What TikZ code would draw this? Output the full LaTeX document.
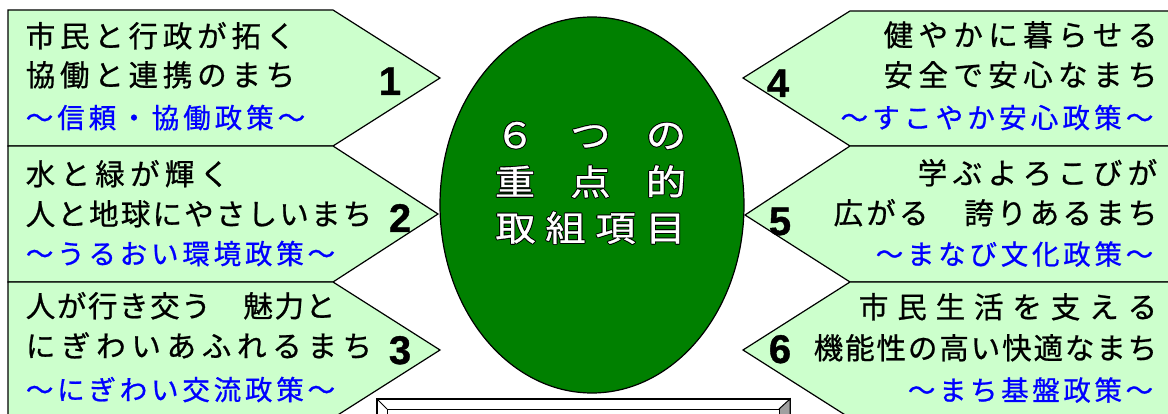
\documentclass[tikz,border=0pt]{standalone}
\usepackage{fontspec}
\usepackage{graphicx}
\newfontfamily\jp{Noto Sans CJK JP}[FakeBold=0.8]
\newfontfamily\dg{Liberation Sans}[FakeBold=1]
\definecolor{lgreen}{HTML}{CCFFCC}
\definecolor{dgreen}{HTML}{008000}
\definecolor{tblue}{HTML}{0000FF}
\definecolor{bevel}{HTML}{A0A0A0}
% characters set on a fixed pitch
\def\jline#1#2{\def\jlw{#1}\jlx#2\jlend}
\let\jlend\relax
\def\jlx#1{\ifx#1\jlend\else\makebox[\jlw pt][c]{#1}\expandafter\jlx\fi}
% characters on a fixed pitch, stretched sideways
\def\cline#1#2{\def\jlw{#1}\clx#2\jlend}
\def\clx#1{\ifx#1\jlend\else\makebox[\jlw pt][c]{\scalebox{1.15}[1]{#1}}\expandafter\clx\fi}
% white text with a thin black outline
\newsavebox\olbox
\newcommand\olt[1]{%
  \sbox\olbox{\color{black}#1}%
  \rlap{\hspace{0.9pt}\usebox\olbox}\rlap{\hspace{-0.9pt}\usebox\olbox}%
  \rlap{\raisebox{0.9pt}{\usebox\olbox}}\rlap{\raisebox{-0.9pt}{\usebox\olbox}}%
  \rlap{\hspace{0.65pt}\raisebox{0.65pt}{\usebox\olbox}}\rlap{\hspace{-0.65pt}\raisebox{0.65pt}{\usebox\olbox}}%
  \rlap{\hspace{0.65pt}\raisebox{-0.65pt}{\usebox\olbox}}\rlap{\hspace{-0.65pt}\raisebox{-0.65pt}{\usebox\olbox}}%
  {\color{white}#1}}
\tikzset{
  pent/.style={fill=lgreen, draw=black, line width=1.2pt, line join=miter},
  blk/.style={anchor=base, inner sep=0pt, font=\jp\fontsize{29.5}{32}\selectfont, text=black},
  blu/.style={anchor=base, inner sep=0pt, font=\jp\fontsize{27.5}{30}\selectfont, text=tblue},
  num/.style={anchor=base, inner sep=0pt, font=\dg\bfseries\fontsize{40}{44}\selectfont, text=black},
  ctr/.style={anchor=base, inner sep=0pt, font=\jp\fontsize{35}{38}\selectfont},
}
\begin{document}
\begin{tikzpicture}[x=1pt,y=-1pt]
\useasboundingbox (0,0) rectangle (1168,414);
% left arrows
\draw[pent] (8,10) -- (333,10) -- (440,78) -- (333,146) -- (8,146) -- cycle;
\draw[pent] (8,146) -- (333,146) -- (438,214) -- (333,282) -- (8,282) -- cycle;
\draw[pent] (8,282) -- (333,282) -- (440,350) -- (333,418) -- (8,418) -- cycle;
% right arrows
\draw[pent] (1180,11) -- (850,11) -- (743,78) -- (850,146) -- (1180,146) -- cycle;
\draw[pent] (1180,146) -- (850,146) -- (745,215) -- (850,282) -- (1180,282) -- cycle;
\draw[pent] (1180,282) -- (850,282) -- (743,350) -- (850,418) -- (1180,418) -- cycle;
% centre ellipse
\draw[fill=dgreen, draw=black, line width=1.2pt] (592,205) ellipse [x radius=152, y radius=188];
\node[ctr] (c1) at (590.5,148) {\olt{\cline{75.5}{６つの}}};
\node[ctr] (c2) at (590.5,195) {\olt{\cline{75.5}{重点的}}};
\node[ctr] (c3) at (590.5,241) {\olt{\cline{50}{取組項目}}};
% left texts
\node[blk] (l1a) at (160.5,47) {\jline{34.3}{市民と行政が拓く}};
\node[blk] (l1b) at (160.5,86) {\jline{34.3}{協働と連携のまち}};
\node[blu] (l1c) at (165.5,128) {\jline{31.5}{～信頼・協働政策～}};
\node[blk] (l2a) at (127.5,185) {\jline{34.8}{水と緑が輝く}};
\node[blk] (l2b) at (199,225) {\jline{31.7}{人と地球にやさしいまち}};
\node[blu] (l2c) at (180.5,264) {\jline{31.3}{～うるおい環境政策～}};
\node[blk] (l3a) at (180.5,317) {\jline{31.1}{人が行き交う　魅力と}};
\node[blk] (l3b) at (199,357) {\jline{35.2}{にぎわいあふれるまち}};
\node[blu] (l3c) at (180.5,400) {\jline{31.3}{～にぎわい交流政策～}};
% right texts
\node[blk] (r4a) at (1020.5,46) {\jline{34.9}{健やかに暮らせる}};
\node[blk] (r4b) at (1020.5,86) {\jline{34.9}{安全で安心なまち}};
\node[blu] (r4c) at (997,128) {\jline{31.7}{～すこやか安心政策～}};
\node[blk] (r5a) at (1037.5,184) {\jline{35}{学ぶよろこびが}};
\node[blk] (r5b) at (995.5,224) {\jline{32.7}{広がる　誇りあるまち}};
\node[blu] (r5c) at (1014.5,264.5) {\jline{31.25}{～まなび文化政策～}};
\node[blk] (r6a) at (1008,318) {\jline{38.4}{市民生活を支える}};
\node[blk] (r6b) at (985.5,359) {\jline{31.4}{機能性の高い快適なまち}};
\node[blu] (r6c) at (1030.5,400.5) {\jline{31.1}{～まち基盤政策～}};
% numbers
\node[num] (n1) at (390,95) {1};
\node[num] (n2) at (400,232) {2};
\node[num] (n3) at (400,364) {3};
\node[num] (n4) at (778,97) {4};
\node[num] (n5) at (780,235) {5};
\node[num] (n6) at (780,363) {6};
% bottom bevelled frame
\draw[fill=white, draw=black, line width=1.5pt] (377,399) rectangle (790,440);
\draw[fill=bevel, draw=black, line width=1pt] (779,409) -- (790,399) -- (790,440) -- (779,440) -- cycle;
\draw[fill=white, draw=black, line width=1pt] (387,409) rectangle (779,440);
\draw[line width=1pt] (377,399) -- (387,409);
\end{tikzpicture}
\end{document}
